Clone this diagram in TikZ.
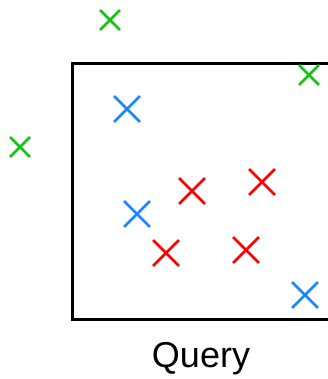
\documentclass[tikz,border=0pt]{standalone}
\usepackage{fontspec}
\setmainfont{Liberation Sans}
\usetikzlibrary{shapes.misc}
\definecolor{mgreen}{RGB}{20,195,20}
\definecolor{mblue}{RGB}{25,135,255}
\definecolor{mred}{RGB}{250,0,0}
\tikzset{
  x=1pt,y=-1pt,
  xmark/.style={cross out, draw, inner sep=0pt, line width=2.8pt, minimum size=#1},
  gx/.style={xmark=17pt, draw=mgreen},
  bx/.style={xmark=23pt, draw=mblue},
  rx/.style={xmark=23pt, draw=mred},
  frame/.style={draw=black, line width=3pt}
}
\begin{document}
\begin{tikzpicture}
\useasboundingbox (0,0) rectangle (327,379);
\draw[frame] (340,63.5) -- (72.5,63.5) -- (72.5,319) -- (340,319);
\node[gx] (g1) at (110,20) {};
\node[gx] (g2) at (309,75) {};
\node[gx] (g3) at (20,147) {};
\node[bx] (b1) at (127,109) {};
\node[bx] (b2) at (137,214) {};
\node[bx] (b3) at (305,295) {};
\node[rx] (r1) at (192,191) {};
\node[rx] (r2) at (262,182) {};
\node[rx] (r3) at (166,253) {};
\node[rx] (r4) at (246,250) {};
\node[font=\fontsize{36}{40}\selectfont, anchor=base] (q) at (201,367.5) {Query};
\end{tikzpicture}
\end{document}
